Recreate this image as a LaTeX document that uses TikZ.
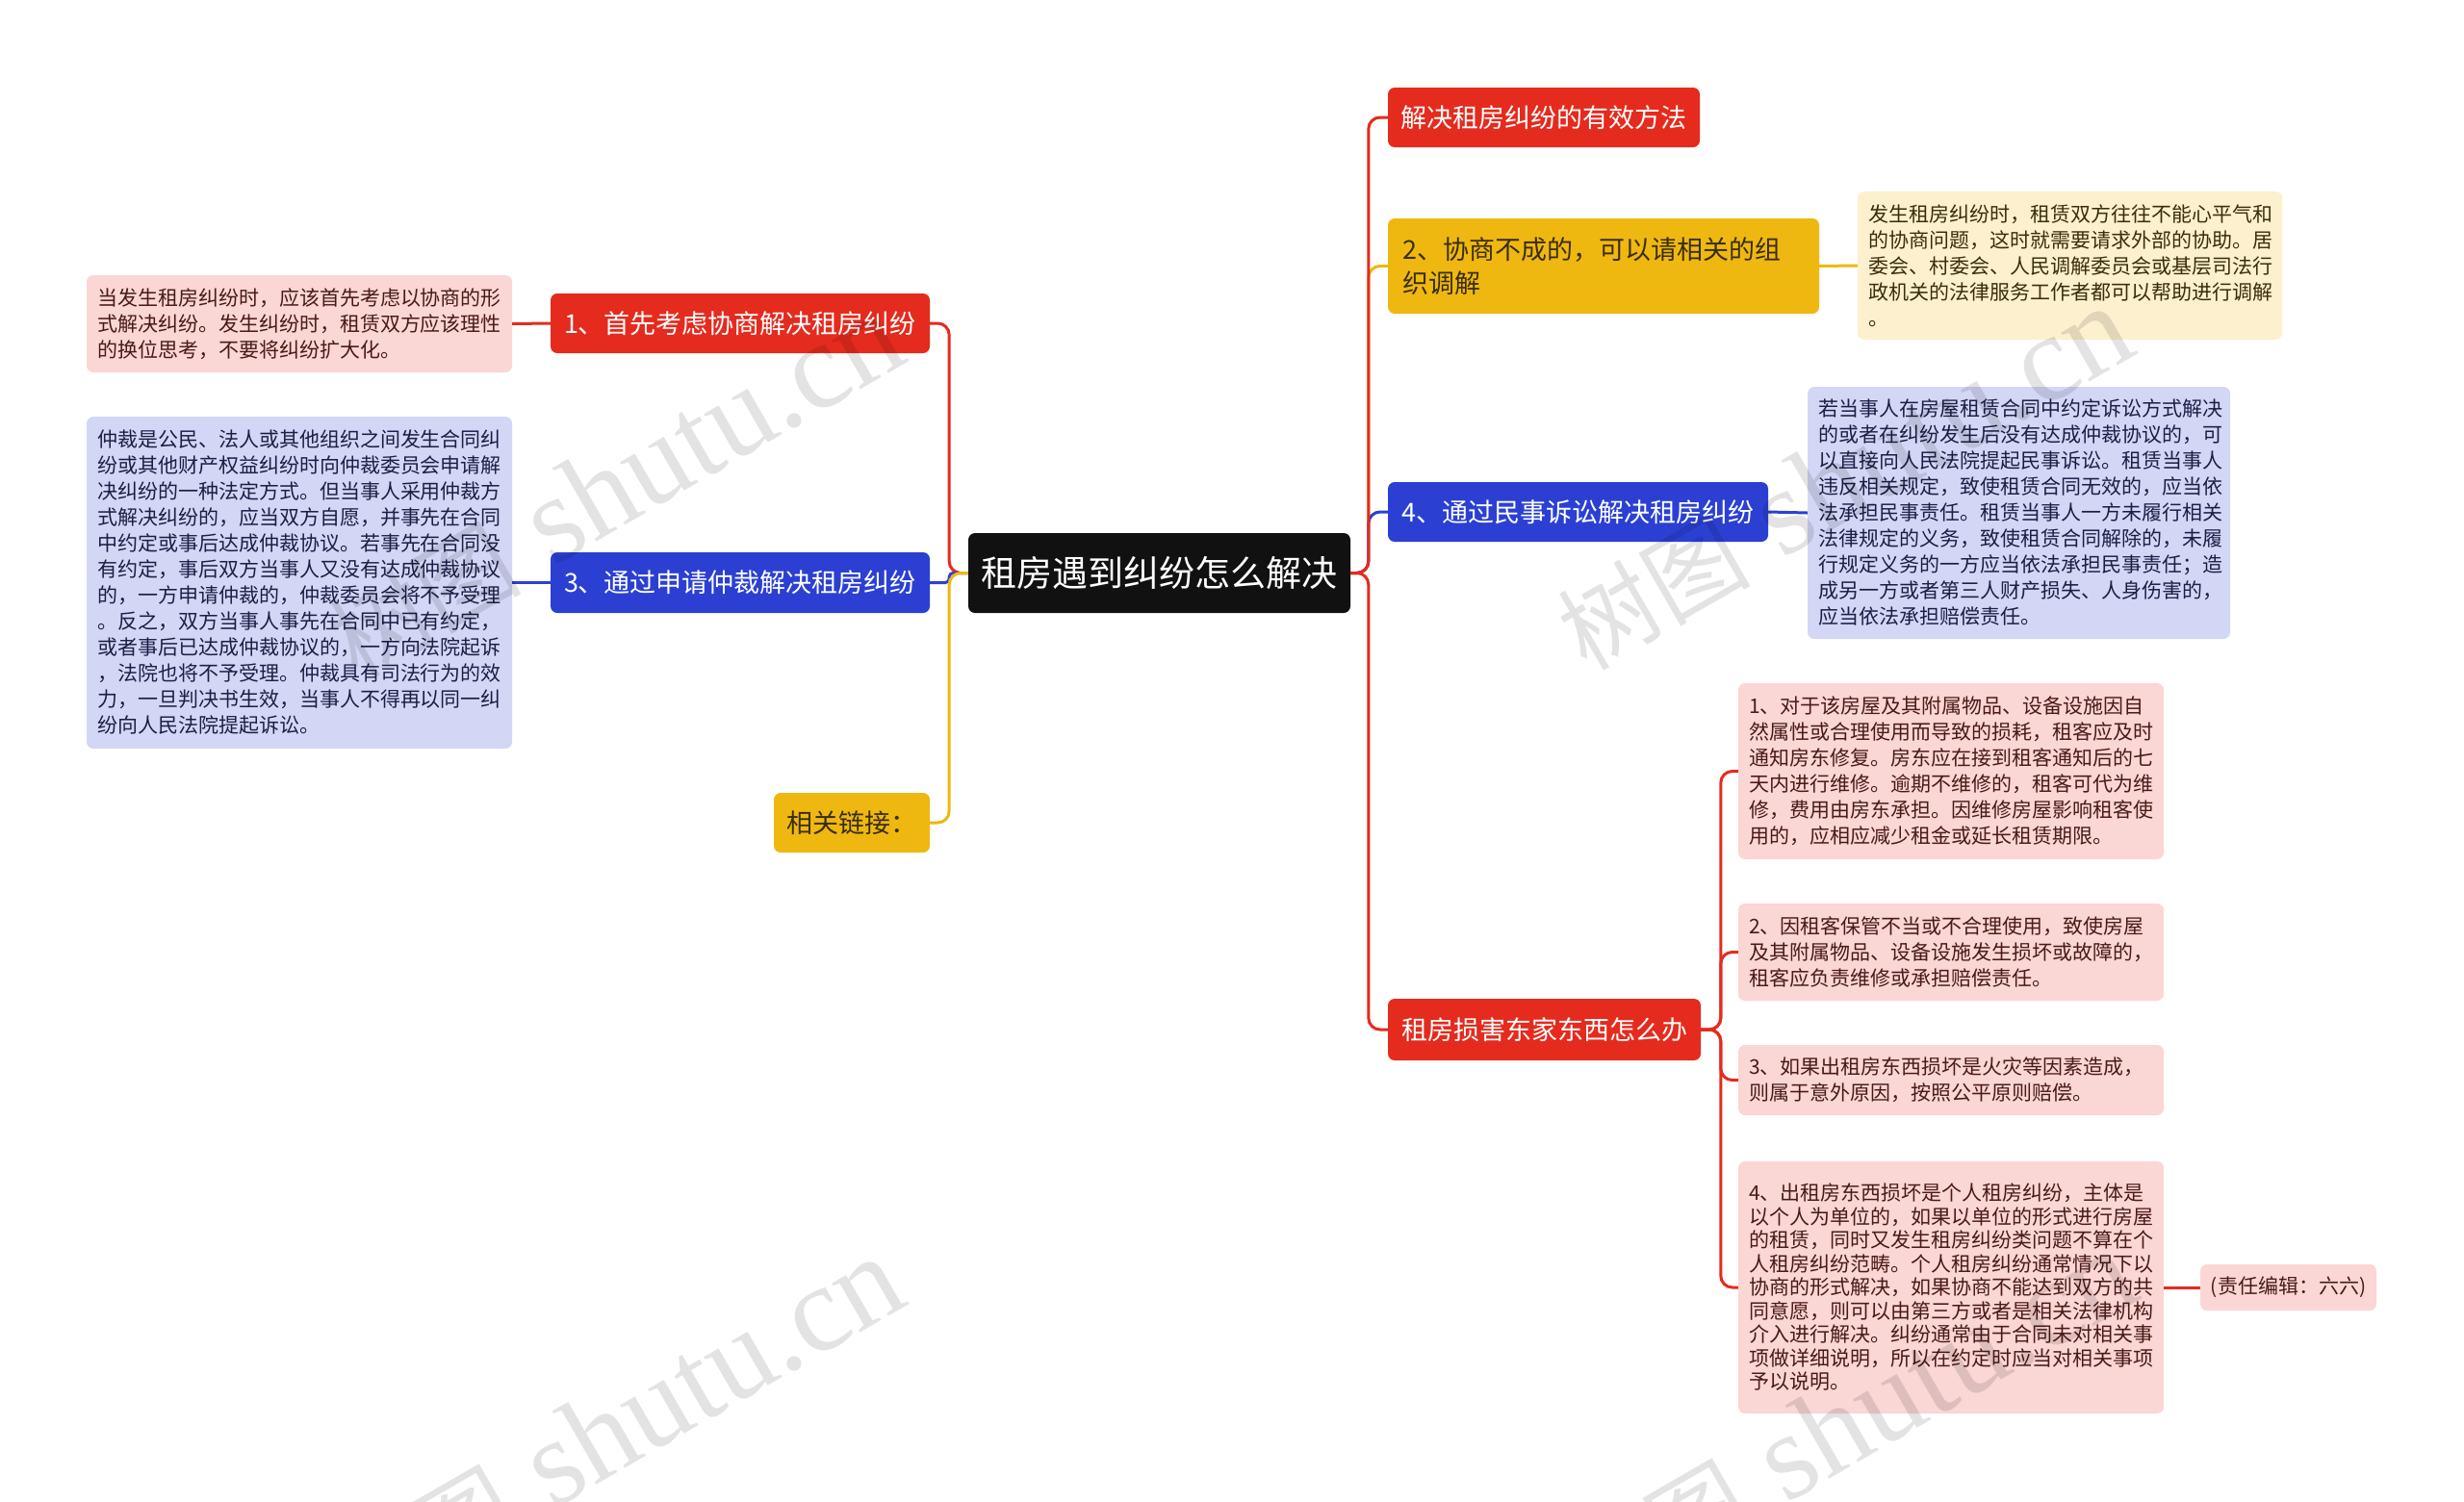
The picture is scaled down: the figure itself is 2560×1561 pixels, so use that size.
\documentclass[tikz,border=0pt]{standalone}
\usepackage{fontspec}
\setmainfont{Noto Sans CJK SC}
\newfontfamily\wmserif{Liberation Serif}
\definecolor{cred}{HTML}{E52B1E}
\definecolor{cblue}{HTML}{2B40D3}
\definecolor{cyel}{HTML}{EFB810}
\definecolor{ccenter}{HTML}{111111}
\definecolor{lpink}{HTML}{FAD6D4}
\definecolor{lblue}{HTML}{D3D7F6}
\definecolor{lyel}{HTML}{FCF0CF}
\definecolor{tpink}{HTML}{4A1A16}
\definecolor{tblue}{HTML}{1C1E45}
\definecolor{tyel}{HTML}{3A2E0A}
\newcommand{\wmtext}{{\fontsize{100}{100}\selectfont 树图}\hspace{34pt}{\wmserif\fontsize{128}{128}\selectfont shutu.cn}}
\begin{document}
\begin{tikzpicture}[x=1pt,y=-1pt,
  box/.style={rounded corners=7pt, inner sep=0pt, align=left},
  topic/.style={box, font=\fontsize{27}{35}\selectfont, text=white, align=center},
  redtopic/.style={topic, fill=cred},
  bluetopic/.style={topic, fill=cblue},
  yeltopic/.style={topic, fill=cyel, text=tyel},
  note/.style={box, font=\fontsize{21}{27}\selectfont, inner xsep=11pt, text width=420pt, minimum width=442pt},
  pinknote/.style={note, fill=lpink, text=tpink},
  bluenote/.style={note, fill=lblue, text=tblue},
  yelnote/.style={note, fill=lyel, text=tyel},
  link/.style={line width=3pt, rounded corners=12pt},
  wm/.style={text=black, text opacity=0.11, rotate=30, anchor=base east, inner sep=0pt}
]
\useasboundingbox (0,0) rectangle (2560,1561);
\fill[white] (0,0) rectangle (2560,1561);

% central topic
\node[box, fill=ccenter, text=white, font=\fontsize{37}{44}\selectfont, minimum width=397pt, minimum height=83pt, align=center] (center) at (1204.5,595.5) {租房遇到纠纷怎么解决};

% left topics
\node[redtopic, minimum width=394pt, minimum height=62pt] (n1) at (769,336) {1、首先考虑协商解决租房纠纷};
\node[bluetopic, minimum width=394pt, minimum height=63pt] (n3) at (769,605.5) {3、通过申请仲裁解决租房纠纷};
\node[yeltopic, minimum width=162pt, minimum height=62pt] (nlink) at (885,855) {相关链接：};

% right topics
\node[redtopic, minimum width=324pt, minimum height=62pt] (r1) at (1604,122) {解决租房纠纷的有效方法};
\node[yeltopic, align=left, inner xsep=15pt, text width=418pt, minimum width=448pt, minimum height=99pt] (r2) at (1666,276.5) {2、协商不成的，可以请相关的组\\织调解};
\node[bluetopic, minimum width=395pt, minimum height=62pt] (r4) at (1639.5,532) {4、通过民事诉讼解决租房纠纷};
\node[redtopic, minimum width=325pt, minimum height=64pt] (r5) at (1604.5,1070) {租房损害东家东西怎么办};

% left notes
\node[pinknote, minimum height=101pt] (A) at (311,336.5) {当发生租房纠纷时，应该首先考虑以协商的形\\式解决纠纷。发生纠纷时，租赁双方应该理性\\的换位思考，不要将纠纷扩大化。};
\node[bluenote, minimum height=345pt] (B) at (311,605.5) {仲裁是公民、法人或其他组织之间发生合同纠\\纷或其他财产权益纠纷时向仲裁委员会申请解\\决纠纷的一种法定方式。但当事人采用仲裁方\\式解决纠纷的，应当双方自愿，并事先在合同\\中约定或事后达成仲裁协议。若事先在合同没\\有约定，事后双方当事人又没有达成仲裁协议\\的，一方申请仲裁的，仲裁委员会将不予受理\\。反之，双方当事人事先在合同中已有约定，\\或者事后已达成仲裁协议的，一方向法院起诉\\，法院也将不予受理。仲裁具有司法行为的效\\力，一旦判决书生效，当事人不得再以同一纠\\纷向人民法院提起诉讼。};

% right notes
\node[yelnote, text width=419pt, minimum width=441pt, minimum height=154pt] (C) at (2150.5,276) {发生租房纠纷时，租赁双方往往不能心平气和\\的协商问题，这时就需要请求外部的协助。居\\委会、村委会、人民调解委员会或基层司法行\\政机关的法律服务工作者都可以帮助进行调解\\。};
\node[bluenote, text width=417pt, minimum width=439pt, minimum height=262pt] (D) at (2097.5,533) {若当事人在房屋租赁合同中约定诉讼方式解决\\的或者在纠纷发生后没有达成仲裁协议的，可\\以直接向人民法院提起民事诉讼。租赁当事人\\违反相关规定，致使租赁合同无效的，应当依\\法承担民事责任。租赁当事人一方未履行相关\\法律规定的义务，致使租赁合同解除的，未履\\行规定义务的一方应当依法承担民事责任；造\\成另一方或者第三人财产损失、人身伤害的，\\应当依法承担赔偿责任。};
\node[pinknote, minimum height=183pt] (P1) at (2027,801.5) {1、对于该房屋及其附属物品、设备设施因自\\然属性或合理使用而导致的损耗，租客应及时\\通知房东修复。房东应在接到租客通知后的七\\天内进行维修。逾期不维修的，租客可代为维\\修，费用由房东承担。因维修房屋影响租客使\\用的，应相应减少租金或延长租赁期限。};
\node[pinknote, minimum height=101pt] (P2) at (2027,989.5) {2、因租客保管不当或不合理使用，致使房屋\\及其附属物品、设备设施发生损坏或故障的，\\租客应负责维修或承担赔偿责任。};
\node[pinknote, minimum height=73pt] (P3) at (2027,1122.5) {3、如果出租房东西损坏是火灾等因素造成，\\则属于意外原因，按照公平原则赔偿。};
\node[pinknote, font=\fontsize{21}{24.5}\selectfont, minimum height=262pt] (P4) at (2027,1338) {4、出租房东西损坏是个人租房纠纷，主体是\\以个人为单位的，如果以单位的形式进行房屋\\的租赁，同时又发生租房纠纷类问题不算在个\\人租房纠纷范畴。个人租房纠纷通常情况下以\\协商的形式解决，如果协商不能达到双方的共\\同意愿，则可以由第三方或者是相关法律机构\\介入进行解决。纠纷通常由于合同未对相关事\\项做详细说明，所以在约定时应当对相关事项\\予以说明。};
\node[box, fill=lpink, text=tpink, font=\fontsize{21}{27}\selectfont, align=center, minimum width=183pt, minimum height=48pt] (E) at (2377.5,1338) {(责任编辑：六六)};

% connectors: left
\draw[link, cred] (center.west) -| ([xshift=20pt]n1.east) -- (n1.east);
\draw[link, cblue, rounded corners=4pt] (center.west) -| ([xshift=20pt]n3.east) -- (n3.east);
\draw[link, cyel] (center.west) -| ([xshift=20pt]nlink.east) -- (nlink.east);
% connectors: right
\draw[link, cyel] (center.east) -| ([xshift=-20pt]r2.west) -- (r2.west);
\draw[link, cblue] (center.east) -| ([xshift=-20pt]r4.west) -- (r4.west);
\draw[link, cred] (center.east) -| ([xshift=-20pt]r1.west) -- (r1.west);
\draw[link, cred] (center.east) -| ([xshift=-20pt]r5.west) -- (r5.west);
% topic to notes
\draw[link, cred] (n1.west) -- (A.east);
\draw[link, cblue] (n3.west) -- (B.east);
\draw[link, cyel] (r2.east) -- (C.west);
\draw[link, cblue] (r4.east) -- (D.west);
\draw[link, cred] (r5.east) -| ([xshift=-18pt]P1.west) -- (P1.west);
\draw[link, cred] (r5.east) -| ([xshift=-18pt]P2.west) -- (P2.west);
\draw[link, cred] (r5.east) -| ([xshift=-18pt]P3.west) -- (P3.west);
\draw[link, cred] (r5.east) -| ([xshift=-18pt]P4.west) -- (P4.west);
\draw[link, cred] (P4.east) -- (E.west);

% watermarks
\node[wm] (wm1) at (947,374) {\wmtext};
\node[wm] (wm2) at (2224,366) {\wmtext};
\node[wm] (wm3) at (947,1354) {\wmtext};
\node[wm] (wm4) at (2228,1348) {\wmtext};
\end{tikzpicture}
\end{document}
